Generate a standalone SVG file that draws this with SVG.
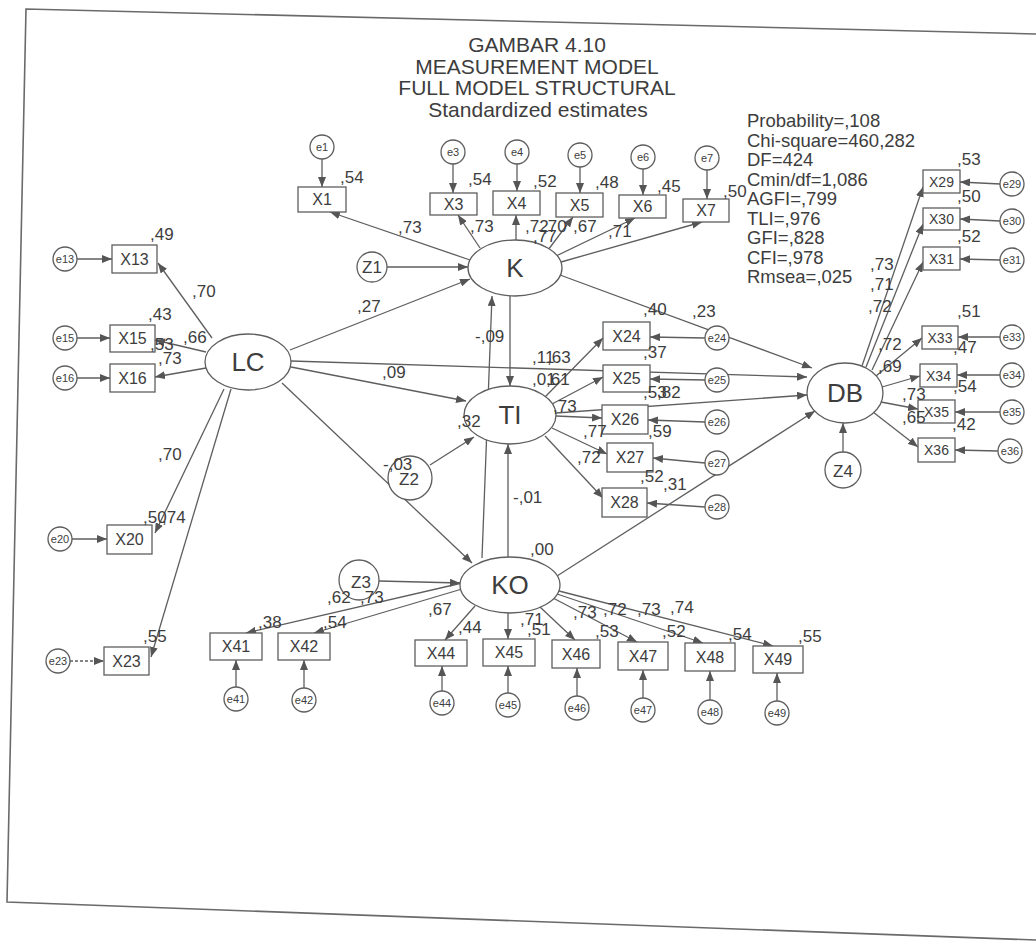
<svg xmlns="http://www.w3.org/2000/svg" width="1036" height="944" viewBox="0 0 1036 944">
<defs>
<marker id="ah" viewBox="0 0 10 8" refX="10" refY="4" markerWidth="10" markerHeight="8" markerUnits="userSpaceOnUse" orient="auto"><path d="M0,0 L10,4 L0,8 z" fill="#555"/></marker>
</defs>
<style>
.ln{stroke:#5e5e5e;stroke-width:1.3;fill:none;marker-end:url(#ah)}
.dsh{stroke-dasharray:3,2}
.fr{stroke:#6a6a6a;stroke-width:1.6;fill:none}
.bx{fill:#fff;stroke:#5e5e5e;stroke-width:1.3}
.el{fill:#fff;stroke:#5e5e5e;stroke-width:1.3}
text{font-family:"Liberation Sans",Arial,sans-serif;fill:#3d3d3d}
.lb{font-size:17px}
.nm{font-size:16px;text-anchor:middle}
.nr{font-size:14px;text-anchor:middle}
.en{font-size:11px;text-anchor:middle}
.lt{font-size:26px;text-anchor:middle}
.zt{font-size:17px;text-anchor:middle}
.ti{font-size:21px;text-anchor:middle}
.st{font-size:18.5px}
</style>
<rect width="1036" height="944" fill="#fff"/>
<polyline class="fr" points="1036,34 26,9 7,902 1036,940"/>

<g id="title">
<text class="ti" x="537" y="52">GAMBAR 4.10</text>
<text class="ti" x="537" y="74">MEASUREMENT MODEL</text>
<text class="ti" x="537" y="95">FULL MODEL STRUCTURAL</text>
<text class="ti" x="538" y="117">Standardized estimates</text>
</g>
<g id="fit">
<text class="st" x="747" y="127">Probability=,108</text>
<text class="st" x="747" y="146.5">Chi-square=460,282</text>
<text class="st" x="747" y="166">DF=424</text>
<text class="st" x="747" y="185.5">Cmin/df=1,086</text>
<text class="st" x="747" y="205">AGFI=,799</text>
<text class="st" x="747" y="224.5">TLI=,976</text>
<text class="st" x="747" y="244">GFI=,828</text>
<text class="st" x="747" y="263.5">CFI=,978</text>
<text class="st" x="747" y="283">Rmsea=,025</text>
</g>

<g id="connectors">
<line class="ln" x1="290" y1="350" x2="470" y2="279"/>
<line class="ln" x1="291" y1="367" x2="466" y2="401"/>
<line class="ln" x1="291" y1="361" x2="807" y2="377"/>
<line class="ln" x1="282" y1="383" x2="472" y2="563"/>
<line class="ln" x1="510" y1="296" x2="510" y2="386"/>
<line class="ln" x1="482" y1="558" x2="492" y2="296"/>
<line class="ln" x1="508" y1="557" x2="508" y2="444"/>
<line class="ln" x1="560" y1="275" x2="812" y2="368"/>
<line class="ln" x1="556" y1="413" x2="807" y2="395"/>
<line class="ln" x1="557" y1="576" x2="815" y2="411"/>
<line class="ln" x1="387" y1="267" x2="468" y2="267"/>
<line class="ln" x1="430" y1="465" x2="474" y2="437"/>
<line class="ln" x1="379" y1="581" x2="460" y2="583"/>
<line class="ln" x1="843" y1="452" x2="843" y2="423"/>
<line class="ln" x1="212" y1="338" x2="158" y2="263"/>
<line class="ln" x1="206" y1="352" x2="155" y2="340"/>
<line class="ln" x1="206" y1="368" x2="155" y2="377"/>
<line class="ln" x1="224" y1="389" x2="155" y2="533"/>
<line class="ln" x1="231" y1="389" x2="151" y2="657"/>
<line class="ln" x1="77" y1="259" x2="112" y2="259"/>
<line class="ln" x1="77" y1="338" x2="110" y2="338"/>
<line class="ln" x1="77" y1="378" x2="110" y2="378"/>
<line class="ln" x1="72" y1="539" x2="107" y2="539"/>
<line class="ln dsh" x1="70" y1="661" x2="104" y2="661"/>
<line class="ln" x1="470" y1="260" x2="330" y2="212"/>
<line class="ln" x1="480" y1="248" x2="458" y2="215"/>
<line class="ln" x1="516" y1="240" x2="516" y2="215"/>
<line class="ln" x1="548" y1="250" x2="573" y2="217"/>
<line class="ln" x1="556" y1="256" x2="635" y2="218"/>
<line class="ln" x1="561" y1="262" x2="702" y2="222"/>
<line class="ln" x1="322" y1="159" x2="322" y2="187"/>
<line class="ln" x1="453" y1="164" x2="453" y2="193"/>
<line class="ln" x1="517" y1="164" x2="517" y2="191"/>
<line class="ln" x1="580" y1="167" x2="580" y2="193"/>
<line class="ln" x1="643" y1="169" x2="643" y2="195"/>
<line class="ln" x1="707" y1="170" x2="707" y2="199"/>
<line class="ln" x1="545" y1="397" x2="603" y2="338"/>
<line class="ln" x1="552" y1="404" x2="603" y2="377"/>
<line class="ln" x1="556" y1="416" x2="602" y2="418"/>
<line class="ln" x1="552" y1="428" x2="607" y2="454"/>
<line class="ln" x1="545" y1="436" x2="603" y2="498"/>
<line class="ln" x1="705" y1="338" x2="650" y2="337"/>
<line class="ln" x1="705" y1="380" x2="650" y2="379"/>
<line class="ln" x1="705" y1="422" x2="648" y2="420"/>
<line class="ln" x1="705" y1="463" x2="653" y2="458"/>
<line class="ln" x1="705" y1="507" x2="647" y2="503"/>
<line class="ln" x1="862" y1="366" x2="923" y2="187"/>
<line class="ln" x1="866" y1="367" x2="923" y2="224"/>
<line class="ln" x1="872" y1="370" x2="923" y2="262"/>
<line class="ln" x1="876" y1="376" x2="922" y2="338"/>
<line class="ln" x1="882" y1="387" x2="920" y2="376"/>
<line class="ln" x1="881" y1="402" x2="918" y2="409"/>
<line class="ln" x1="873" y1="412" x2="918" y2="447"/>
<line class="ln" x1="1000" y1="184" x2="960" y2="182"/>
<line class="ln" x1="1000" y1="221" x2="960" y2="219"/>
<line class="ln" x1="1000" y1="260" x2="960" y2="259"/>
<line class="ln" x1="1000" y1="337" x2="958" y2="337"/>
<line class="ln" x1="1000" y1="375" x2="957" y2="375"/>
<line class="ln" x1="1000" y1="412" x2="955" y2="412"/>
<line class="ln" x1="998" y1="451" x2="955" y2="450"/>
<line class="ln" x1="462" y1="583" x2="246" y2="633"/>
<line class="ln" x1="462" y1="589" x2="314" y2="633"/>
<line class="ln" x1="475" y1="606" x2="445" y2="640"/>
<line class="ln" x1="508" y1="613" x2="508" y2="639"/>
<line class="ln" x1="540" y1="607" x2="575" y2="640"/>
<line class="ln" x1="553" y1="598" x2="637" y2="642"/>
<line class="ln" x1="557" y1="594" x2="703" y2="643"/>
<line class="ln" x1="559" y1="591" x2="773" y2="646"/>
<line class="ln" x1="236" y1="687" x2="236" y2="660"/>
<line class="ln" x1="304" y1="688" x2="304" y2="660"/>
<line class="ln" x1="442" y1="691" x2="442" y2="666"/>
<line class="ln" x1="508" y1="693" x2="508" y2="666"/>
<line class="ln" x1="577" y1="696" x2="577" y2="668"/>
<line class="ln" x1="643" y1="698" x2="643" y2="670"/>
<line class="ln" x1="710" y1="700" x2="710" y2="671"/>
<line class="ln" x1="777" y1="701" x2="777" y2="673"/>
</g>

<g id="LC"><ellipse class="el" cx="248" cy="362" rx="43" ry="28"/><text class="lt" x="248" y="371">LC</text></g>
<g id="K"><ellipse class="el" cx="515" cy="268" rx="47" ry="28"/><text class="lt" x="515" y="277">K</text></g>
<g id="TI"><ellipse class="el" cx="510" cy="415" rx="46" ry="29"/><text class="lt" x="510" y="424">TI</text></g>
<g id="KO"><ellipse class="el" cx="510" cy="585" rx="50" ry="28"/><text class="lt" x="510" y="594">KO</text></g>
<g id="DB"><ellipse class="el" cx="845" cy="393" rx="38" ry="30"/><text class="lt" x="845" y="402">DB</text></g>

<g id="Z1"><circle class="el" cx="372" cy="267" r="15"/><text class="zt" x="372" y="273">Z1</text></g>
<g id="Z2"><circle class="el" cx="410" cy="478" r="22"/><text class="zt" x="409" y="485">Z2</text></g>
<g id="Z3"><circle class="el" cx="359" cy="580" r="20"/><text class="zt" x="361" y="588">Z3</text></g>
<g id="Z4"><circle class="el" cx="843" cy="470" r="18"/><text class="zt" x="843" y="477">Z4</text></g>

<g id="X1"><rect class="bx" x="298" y="187" width="48" height="25"/><text class="nm" x="322" y="205">X1</text></g>
<g id="X3"><rect class="bx" x="430" y="193" width="47" height="22"/><text class="nm" x="453.5" y="210">X3</text></g>
<g id="X4"><rect class="bx" x="493" y="191" width="47" height="24"/><text class="nm" x="516.5" y="209">X4</text></g>
<g id="X5"><rect class="bx" x="556" y="193" width="47" height="24"/><text class="nm" x="579.5" y="211">X5</text></g>
<g id="X6"><rect class="bx" x="619" y="195" width="47" height="23"/><text class="nm" x="642.5" y="212">X6</text></g>
<g id="X7"><rect class="bx" x="683" y="199" width="46" height="23"/><text class="nm" x="706" y="216">X7</text></g>
<g id="X13"><rect class="bx" x="112" y="245" width="45" height="28"/><text class="nm" x="134.5" y="265">X13</text></g>
<g id="X15"><rect class="bx" x="110" y="325" width="45" height="27"/><text class="nm" x="132.5" y="344">X15</text></g>
<g id="X16"><rect class="bx" x="110" y="364" width="45" height="28"/><text class="nm" x="132.5" y="384">X16</text></g>
<g id="X20"><rect class="bx" x="107" y="525" width="45" height="29"/><text class="nm" x="129.5" y="545">X20</text></g>
<g id="X23"><rect class="bx" x="104" y="647" width="45" height="28"/><text class="nm" x="126.5" y="667">X23</text></g>
<g id="X24"><rect class="bx" x="603" y="322" width="47" height="28"/><text class="nm" x="626.5" y="342">X24</text></g>
<g id="X25"><rect class="bx" x="603" y="365" width="47" height="27"/><text class="nm" x="626.5" y="384">X25</text></g>
<g id="X26"><rect class="bx" x="602" y="405" width="46" height="29"/><text class="nm" x="625" y="425">X26</text></g>
<g id="X27"><rect class="bx" x="607" y="443" width="46" height="29"/><text class="nm" x="630" y="463">X27</text></g>
<g id="X28"><rect class="bx" x="602" y="488" width="45" height="29"/><text class="nm" x="624.5" y="508">X28</text></g>
<g id="X29"><rect class="bx" x="923" y="170" width="37" height="23"/><text class="nr" x="941.5" y="186.5">X29</text></g>
<g id="X30"><rect class="bx" x="923" y="208" width="37" height="22"/><text class="nr" x="941.5" y="224">X30</text></g>
<g id="X31"><rect class="bx" x="923" y="247" width="37" height="23"/><text class="nr" x="941.5" y="263.5">X31</text></g>
<g id="X33"><rect class="bx" x="922" y="326" width="36" height="23"/><text class="nr" x="940" y="342.5">X33</text></g>
<g id="X34"><rect class="bx" x="920" y="364" width="37" height="23"/><text class="nr" x="938.5" y="380.5">X34</text></g>
<g id="X35"><rect class="bx" x="918" y="400" width="37" height="23"/><text class="nr" x="936.5" y="416.5">X35</text></g>
<g id="X36"><rect class="bx" x="918" y="438" width="37" height="24"/><text class="nr" x="936.5" y="455">X36</text></g>
<g id="X41"><rect class="bx" x="210" y="633" width="52" height="27"/><text class="nm" x="236" y="652">X41</text></g>
<g id="X42"><rect class="bx" x="278" y="633" width="52" height="27"/><text class="nm" x="304" y="652">X42</text></g>
<g id="X44"><rect class="bx" x="415" y="640" width="52" height="26"/><text class="nm" x="441" y="659">X44</text></g>
<g id="X45"><rect class="bx" x="483" y="639" width="52" height="27"/><text class="nm" x="509" y="658">X45</text></g>
<g id="X46"><rect class="bx" x="552" y="640" width="48" height="28"/><text class="nm" x="576" y="660">X46</text></g>
<g id="X47"><rect class="bx" x="618" y="642" width="50" height="28"/><text class="nm" x="643" y="662">X47</text></g>
<g id="X48"><rect class="bx" x="685" y="643" width="50" height="28"/><text class="nm" x="710" y="663">X48</text></g>
<g id="X49"><rect class="bx" x="753" y="646" width="50" height="27"/><text class="nm" x="778" y="665">X49</text></g>

<g id="e1"><circle class="el" cx="322" cy="147" r="12"/><text class="en" x="322" y="151">e1</text></g>
<g id="e3"><circle class="el" cx="453" cy="152" r="12"/><text class="en" x="453" y="156">e3</text></g>
<g id="e4"><circle class="el" cx="517" cy="152" r="12"/><text class="en" x="517" y="156">e4</text></g>
<g id="e5"><circle class="el" cx="580" cy="155" r="12"/><text class="en" x="580" y="159">e5</text></g>
<g id="e6"><circle class="el" cx="643" cy="157" r="12"/><text class="en" x="643" y="161">e6</text></g>
<g id="e7"><circle class="el" cx="707" cy="158" r="12"/><text class="en" x="707" y="162">e7</text></g>
<g id="e13"><circle class="el" cx="65" cy="259" r="12"/><text class="en" x="65" y="263">e13</text></g>
<g id="e15"><circle class="el" cx="65" cy="338" r="12"/><text class="en" x="65" y="342">e15</text></g>
<g id="e16"><circle class="el" cx="65" cy="378" r="12"/><text class="en" x="65" y="382">e16</text></g>
<g id="e20"><circle class="el" cx="60" cy="539" r="12"/><text class="en" x="60" y="543">e20</text></g>
<g id="e23"><circle class="el" cx="58" cy="661" r="12"/><text class="en" x="58" y="665">e23</text></g>
<g id="e24"><circle class="el" cx="717" cy="338" r="12"/><text class="en" x="717" y="342">e24</text></g>
<g id="e25"><circle class="el" cx="717" cy="380" r="12"/><text class="en" x="717" y="384">e25</text></g>
<g id="e26"><circle class="el" cx="717" cy="422" r="12"/><text class="en" x="717" y="426">e26</text></g>
<g id="e27"><circle class="el" cx="717" cy="463" r="12"/><text class="en" x="717" y="467">e27</text></g>
<g id="e28"><circle class="el" cx="717" cy="507" r="12"/><text class="en" x="717" y="511">e28</text></g>
<g id="e29"><circle class="el" cx="1012" cy="184" r="12"/><text class="en" x="1012" y="188">e29</text></g>
<g id="e30"><circle class="el" cx="1012" cy="221" r="12"/><text class="en" x="1012" y="225">e30</text></g>
<g id="e31"><circle class="el" cx="1012" cy="260" r="12"/><text class="en" x="1012" y="264">e31</text></g>
<g id="e33"><circle class="el" cx="1012" cy="337" r="12"/><text class="en" x="1012" y="341">e33</text></g>
<g id="e34"><circle class="el" cx="1012" cy="375" r="12"/><text class="en" x="1012" y="379">e34</text></g>
<g id="e35"><circle class="el" cx="1012" cy="412" r="12"/><text class="en" x="1012" y="416">e35</text></g>
<g id="e36"><circle class="el" cx="1010" cy="451" r="12"/><text class="en" x="1010" y="455">e36</text></g>
<g id="e41"><circle class="el" cx="236" cy="699" r="12"/><text class="en" x="236" y="703">e41</text></g>
<g id="e42"><circle class="el" cx="304" cy="700" r="12"/><text class="en" x="304" y="704">e42</text></g>
<g id="e44"><circle class="el" cx="442" cy="703" r="12"/><text class="en" x="442" y="707">e44</text></g>
<g id="e45"><circle class="el" cx="508" cy="705" r="12"/><text class="en" x="508" y="709">e45</text></g>
<g id="e46"><circle class="el" cx="577" cy="708" r="12"/><text class="en" x="577" y="712">e46</text></g>
<g id="e47"><circle class="el" cx="643" cy="710" r="12"/><text class="en" x="643" y="714">e47</text></g>
<g id="e48"><circle class="el" cx="710" cy="712" r="12"/><text class="en" x="710" y="716">e48</text></g>
<g id="e49"><circle class="el" cx="777" cy="713" r="12"/><text class="en" x="777" y="717">e49</text></g>

<g id="estimates">
<text class="lb" x="150" y="240">,49</text>
<text class="lb" x="192" y="297">,70</text>
<text class="lb" x="148" y="320">,43</text>
<text class="lb" x="183" y="343">,66</text>
<text class="lb" x="150" y="350">,53</text>
<text class="lb" x="158" y="364">,73</text>
<text class="lb" x="158" y="460">,70</text>
<text class="lb" x="143" y="523">,50</text>
<text class="lb" x="162" y="523">,74</text>
<text class="lb" x="143" y="642">,55</text>
<text class="lb" x="340" y="183">,54</text>
<text class="lb" x="468" y="185">,54</text>
<text class="lb" x="533" y="187">,52</text>
<text class="lb" x="595" y="188">,48</text>
<text class="lb" x="657" y="192">,45</text>
<text class="lb" x="723" y="197">,50</text>
<text class="lb" x="398" y="233">,73</text>
<text class="lb" x="470" y="232">,73</text>
<text class="lb" x="525" y="232">,72</text>
<text class="lb" x="543" y="232">,70</text>
<text class="lb" x="533" y="242">,77</text>
<text class="lb" x="573" y="232">,67</text>
<text class="lb" x="608" y="237">,71</text>
<text class="lb" x="357" y="312">,27</text>
<text class="lb" x="382" y="378">,09</text>
<text class="lb" x="475" y="342">-,09</text>
<text class="lb" x="457" y="427">,32</text>
<text class="lb" x="383" y="470">-,03</text>
<text class="lb" x="513" y="503">-,01</text>
<text class="lb" x="530" y="555">,00</text>
<text class="lb" x="643" y="315">,40</text>
<text class="lb" x="692" y="317">,23</text>
<text class="lb" x="532" y="363">,11</text>
<text class="lb" x="547" y="363">,63</text>
<text class="lb" x="643" y="358">,37</text>
<text class="lb" x="532" y="385">,01</text>
<text class="lb" x="546" y="385">,61</text>
<text class="lb" x="643" y="398">,53</text>
<text class="lb" x="657" y="398">,82</text>
<text class="lb" x="553" y="412">,73</text>
<text class="lb" x="583" y="437">,77</text>
<text class="lb" x="648" y="437">,59</text>
<text class="lb" x="577" y="463">,72</text>
<text class="lb" x="640" y="482">,52</text>
<text class="lb" x="663" y="490">,31</text>
<text class="lb" x="957" y="165">,53</text>
<text class="lb" x="957" y="202">,50</text>
<text class="lb" x="957" y="242">,52</text>
<text class="lb" x="957" y="317">,51</text>
<text class="lb" x="953" y="353">,47</text>
<text class="lb" x="953" y="392">,54</text>
<text class="lb" x="952" y="430">,42</text>
<text class="lb" x="870" y="270">,73</text>
<text class="lb" x="870" y="290">,71</text>
<text class="lb" x="868" y="312">,72</text>
<text class="lb" x="878" y="350">,72</text>
<text class="lb" x="878" y="372">,69</text>
<text class="lb" x="902" y="400">,73</text>
<text class="lb" x="902" y="423">,65</text>
<text class="lb" x="327" y="603">,62</text>
<text class="lb" x="360" y="603">,73</text>
<text class="lb" x="258" y="628">,38</text>
<text class="lb" x="323" y="628">,54</text>
<text class="lb" x="428" y="615">,67</text>
<text class="lb" x="458" y="633">,44</text>
<text class="lb" x="520" y="625">,71</text>
<text class="lb" x="527" y="635">,51</text>
<text class="lb" x="573" y="618">,73</text>
<text class="lb" x="603" y="615">,72</text>
<text class="lb" x="637" y="615">,73</text>
<text class="lb" x="670" y="613">,74</text>
<text class="lb" x="595" y="637">,53</text>
<text class="lb" x="662" y="637">,52</text>
<text class="lb" x="728" y="640">,54</text>
<text class="lb" x="798" y="642">,55</text>
</g>
</svg>
